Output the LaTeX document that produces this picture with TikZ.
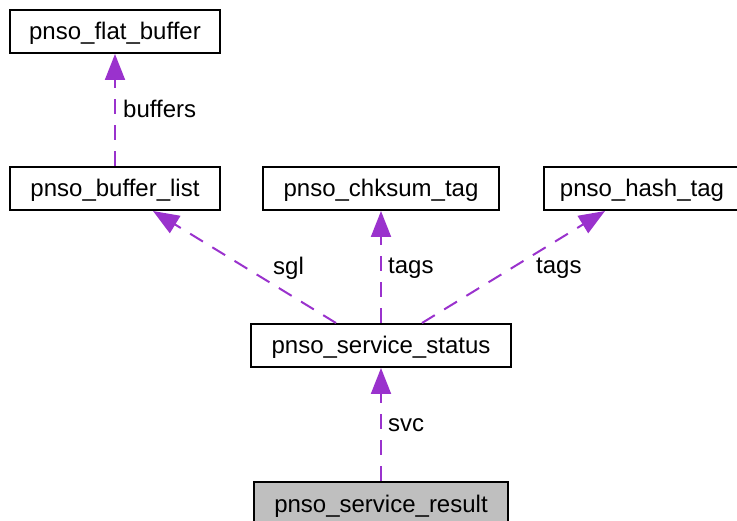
\documentclass[tikz,border=0pt]{standalone}
\usepackage{fontspec}
\setmainfont{Liberation Sans}
\usetikzlibrary{arrows.meta}
\definecolor{edgecol}{RGB}{154,50,205}
\definecolor{rootfill}{RGB}{191,191,191}
\tikzset{
  structbox/.style={draw=black, line width=2pt, fill=white, inner sep=0pt,
    text height=21pt, text depth=4pt, minimum height=43pt, font=\fontsize{24}{28}\selectfont},
  useedge/.style={draw=edgecol, line width=2pt, dash pattern=on 15pt off 11pt,
    -{Triangle[length=26pt,width=20pt,fill=edgecol]}},
  edgelabel/.style={font=\fontsize{24}{28}\selectfont, anchor=west, inner sep=0pt}
}
\begin{document}
\begin{tikzpicture}[x=1pt,y=-1pt]
\useasboundingbox (0,0) rectangle (737,521);
% structure boxes
\node[structbox, minimum width=210pt] (flat) at (115,31.5) {pnso\_flat\_buffer};
\node[structbox, minimum width=210pt] (blist) at (115,188.5) {pnso\_buffer\_list};
\node[structbox, minimum width=236pt] (chk) at (381,188.5) {pnso\_chksum\_tag};
\node[structbox, minimum width=196pt, anchor=west] (hash) at (543,188.5) {pnso\_hash\_tag};
\node[structbox, minimum width=260pt] (status) at (381,345.5) {pnso\_service\_status};
\node[structbox, fill=rootfill, minimum width=254pt, anchor=north] (result) at (381,481) {pnso\_service\_result};
% attachment points on the box borders for the slanted links
\coordinate (s1) at ([xshift=86pt]status.north west);
\coordinate (t1) at ([xshift=38pt]blist.south);
\coordinate (s3) at ([xshift=172pt]status.north west);
\coordinate (t3) at ([xshift=62pt]hash.south west);
% member links
\draw[useedge] (blist.north) -- (flat.south);
\draw[useedge] (s1) -- (t1);
\draw[useedge] (status.north) -- (chk.south);
\draw[useedge] (s3) -- (t3);
\draw[useedge] (result.north) -- (status.south);
% labels
\node[edgelabel] (lbuf) at (123,109) {buffers};
\node[edgelabel] (lsgl) at (273,268) {sgl};
\node[edgelabel] (ltag1) at (388,268) {tags};
\node[edgelabel] (ltag2) at (536,268) {tags};
\node[edgelabel] (lsvc) at (388,425) {svc};
\end{tikzpicture}
\end{document}
